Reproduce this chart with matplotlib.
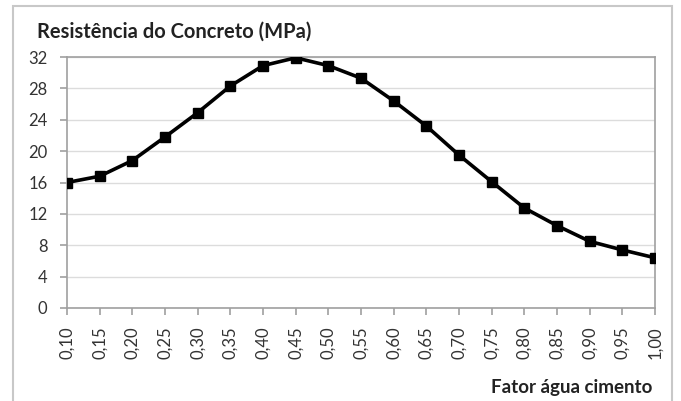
import numpy as np
import matplotlib.pyplot as plt
from matplotlib.patches import Rectangle

# fator agua/cimento e resistencia
fator = ["0,10", "0,15", "0,20", "0,25", "0,30", "0,35", "0,40", "0,45", "0,50", "0,55",
         "0,60", "0,65", "0,70", "0,75", "0,80", "0,85", "0,90", "0,95", "1,00"]
resistencia = [16.0, 16.8, 18.8, 21.8, 24.9, 28.3, 30.9, 31.9, 30.9, 29.3,
               26.4, 23.2, 19.5, 16.1, 12.75, 10.5, 8.5, 7.4, 6.4]
y_ticks = [0, 4, 8, 12, 16, 20, 24, 28, 32]

plt.rcParams['font.family'] = ['Lato', 'DejaVu Sans']

fig = plt.figure(figsize=(6.81, 4.01), dpi=100)
ax = fig.add_axes([67 / 681, 1 - 308 / 401, (655 - 67) / 681, (308 - 57) / 401])

# moldura externa do grafico
fig.patches.append(Rectangle((13 / 681, -0.01), (672 - 13) / 681, 1 - 6 / 401 + 0.01,
                             transform=fig.transFigure, fill=False,
                             edgecolor="#c8c8c8", linewidth=1.5))

x = np.arange(len(fator))
ax.plot(x, resistencia, color="black", linewidth=2.6, marker="s", markersize=6.5,
        solid_joinstyle="round", zorder=3)

ax.set_xlim(0, len(fator) - 1)
ax.set_ylim(0, 32)
ax.set_yticks(y_ticks)
ax.set_yticklabels([str(v) for v in y_ticks], fontsize=12, color="#333333")
ax.set_xticks(x)
ax.set_xticklabels(fator, rotation=90, fontsize=12, color="#333333")
ax.grid(axis="y", color="#dcdcdc", linewidth=1)
ax.set_axisbelow(True)

for s in ax.spines.values():
    s.set_color("#a0a0a0")
    s.set_linewidth(1.2)
ax.tick_params(axis="both", color="#a0a0a0", length=5, width=1.2)
ax.tick_params(axis="y", pad=9)
ax.tick_params(axis="x", pad=8)

fig.text(37 / 681, 1 - 32 / 401, "Resistência do Concreto (MPa)", fontsize=14.5,
         fontweight="bold", color="#222222", va="center", ha="left")
fig.text(652 / 681, 1 - 387 / 401, "Fator água cimento", fontsize=13.5,
         fontweight="bold", color="#222222", va="center", ha="right")

fig.savefig("out.png", dpi=100)
